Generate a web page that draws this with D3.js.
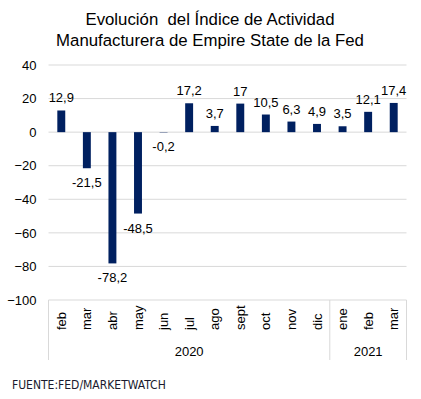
<!DOCTYPE html>
<html>
<head>
<meta charset="utf-8">
<script src="https://cdn.jsdelivr.net/npm/d3@7"></script>
<style>
  body { margin: 0; background: #fff; }
  svg { font-family: "Liberation Sans", Arial, sans-serif; }
</style>
</head>
<body>
<div id="chart"></div>
<script>
// data
var months = ["feb", "mar", "abr", "may", "jun", "jul", "ago", "sept", "oct", "nov", "dic", "ene", "feb", "mar"];
var years = ["2020", "2020", "2020", "2020", "2020", "2020", "2020", "2020", "2020", "2020", "2020", "2021", "2021", "2021"];
var values = [12.9, -21.5, -78.2, -48.5, -0.2, 17.2, 3.7, 17, 10.5, 6.3, 4.9, 3.5, 12.1, 17.4];
var yTicks = [40, 20, 0, -20, -40, -60, -80, -100];

var width = 421, height = 399;
var margin = { top: 65, left: 48.5, right: 14.5, bottom: 99 };

var svg = d3.select("#chart").append("svg")
    .attr("width", width)
    .attr("height", height);

var idx = d3.range(values.length);

var x = d3.scaleBand()
    .domain(idx)
    .range([margin.left, width - margin.right])
    .paddingInner(0.69)
    .paddingOuter(0.345);

var xStep = d3.scaleBand().domain(idx).range([margin.left, width - margin.right]);

var y = d3.scaleLinear()
    .domain([-100, 40])
    .range([height - margin.bottom, margin.top]);

// title
svg.append("text")
    .attr("x", 210).attr("y", 25)
    .attr("text-anchor", "middle")
    .attr("font-size", 16.8).attr("fill", "#000")
    .style("white-space", "pre")
    .text("Evolución  del Índice de Actividad");
svg.append("text")
    .attr("x", 210).attr("y", 46)
    .attr("text-anchor", "middle")
    .attr("font-size", 16.8).attr("fill", "#000")
    .text("Manufacturera de Empire State de la Fed");

// gridlines
svg.append("g").selectAll("line")
    .data(yTicks.filter(function (d) { return d > -100; }))
    .join("line")
    .attr("x1", margin.left).attr("x2", width - margin.right)
    .attr("y1", function (d) { return y(d); })
    .attr("y2", function (d) { return y(d); })
    .attr("stroke", "#d9d9d9").attr("stroke-width", 1);

// y axis labels
var yAxis = d3.axisLeft(y).tickValues(yTicks).tickSize(0).tickPadding(12);
var gy = svg.append("g")
    .attr("transform", "translate(" + margin.left + ",0)")
    .call(yAxis);
gy.select(".domain").remove();
gy.selectAll("text").attr("font-size", 13).attr("fill", "#000")
    .attr("font-family", "Liberation Sans, Arial, sans-serif");

// category axis: bottom line + separators
var yBase = y(-100);
var yBottom = 360;
svg.append("line")
    .attr("x1", margin.left).attr("x2", width - margin.right)
    .attr("y1", yBase).attr("y2", yBase)
    .attr("stroke", "#d9d9d9");

var yearStarts = idx.filter(function (i) { return i === 0 || years[i] !== years[i - 1]; });
var seps = yearStarts.map(function (i) { return xStep(i); }).concat([xStep.range()[1]]);
svg.append("g").selectAll("line")
    .data(seps)
    .join("line")
    .attr("x1", function (d) { return d; }).attr("x2", function (d) { return d; })
    .attr("y1", yBase).attr("y2", yBottom)
    .attr("stroke", "#d9d9d9");

// month labels (rotated)
svg.append("g").selectAll("text")
    .data(idx)
    .join("text")
    .attr("transform", function (i) {
        return "translate(" + (xStep(i) + xStep.bandwidth() / 2 + 4.5) + "," + 330 + ") rotate(-90)";
    })
    .attr("text-anchor", "start")
    .attr("font-size", 13).attr("fill", "#000")
    .text(function (i) { return months[i]; });

// year labels
var yearGroups = d3.groups(idx, function (i) { return years[i]; });
svg.append("g").selectAll("text")
    .data(yearGroups)
    .join("text")
    .attr("x", function (g) {
        var a = xStep(g[1][0]);
        var b = xStep(g[1][g[1].length - 1]) + xStep.bandwidth();
        return (a + b) / 2;
    })
    .attr("y", 356)
    .attr("text-anchor", "middle")
    .attr("font-size", 13).attr("fill", "#000")
    .text(function (g) { return g[0]; });

// bars
svg.append("g").selectAll("rect")
    .data(idx)
    .join("rect")
    .attr("x", function (i) { return x(i); })
    .attr("width", x.bandwidth())
    .attr("y", function (i) { return y(Math.max(0, values[i])); })
    .attr("height", function (i) { return Math.abs(y(values[i]) - y(0)); })
    .attr("fill", "#002060");

// data labels
svg.append("g").selectAll("text")
    .data(idx)
    .join("text")
    .attr("x", function (i) { return x(i) + x.bandwidth() / 2; })
    .attr("y", function (i) {
        return values[i] >= 0 ? y(values[i]) - 8 : y(values[i]) + 19;
    })
    .attr("text-anchor", "middle")
    .attr("font-size", 13).attr("fill", "#000")
    .text(function (i) { return String(values[i]).replace(".", ","); });

// source
svg.append("text")
    .attr("x", 12).attr("y", 389)
    .attr("font-size", 12).attr("fill", "#1a1a2e")
    .attr("font-family", "Liberation Sans Narrow, DejaVu Sans Condensed, sans-serif")
    .text("FUENTE:FED/MARKETWATCH");
</script>
</body>
</html>
